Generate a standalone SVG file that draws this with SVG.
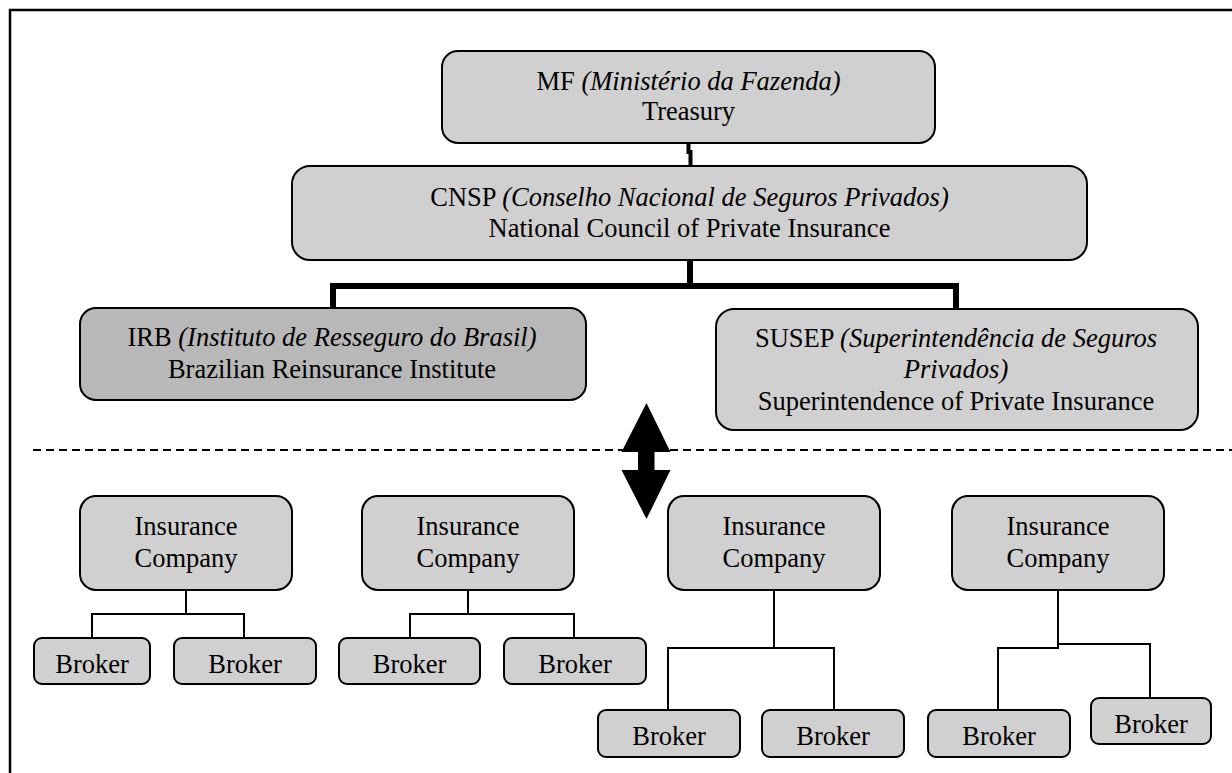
<svg xmlns="http://www.w3.org/2000/svg" width="1232" height="773" viewBox="0 0 1232 773">
<style>
.n{fill:#d0d0d0;stroke:#000;stroke-width:2}
.d{fill:#b8b8b8;stroke:#000;stroke-width:2}
text{font-family:"Liberation Serif","Times New Roman",serif;font-size:26.5px;fill:#000;text-anchor:middle}
.i{font-style:italic}
.thick{fill:none;stroke:#000;stroke-width:6}
.thin{fill:none;stroke:#000;stroke-width:2}
</style>
<rect x="0" y="0" width="1232" height="773" fill="#fff"/>
<path d="M10,773 V10 H1232" fill="none" stroke="#000" stroke-width="2.5"/>
<line x1="33" y1="450" x2="1232" y2="450" stroke="#000" stroke-width="2" stroke-dasharray="8,5"/>
<g id="connectors">
<path d="M688.5,143 V152 H690.5 V166" fill="none" stroke="#000" stroke-width="4"/>
<path class="thick" d="M690,260 V286 M333,310 V286 H956 V310"/>
<path class="thin" d="M186,590 V614 M92,638 V614 H244 V638"/>
<path class="thin" d="M468,590 V614 M410,638 V614 H574 V638"/>
<path class="thin" d="M774,590 V648 M668,710 V648 H834 V710"/>
<path class="thin" d="M1058,590 V648 H998 V710 M1058,644 H1150 V698"/>
</g>
<polygon id="arrow" points="646.5,403 670.5,452 654.5,452 654.5,470 670.5,470 646.5,519 621.5,470 638,470 638,452 621.5,452" fill="#000"/>
<g id="mf"><rect class="n" x="442" y="51" width="493" height="92" rx="16"/>
<text x="688.5" y="90">MF <tspan class="i">(Ministério da Fazenda)</tspan></text>
<text x="688.5" y="120">Treasury</text></g>
<g id="cnsp"><rect class="n" x="292" y="166" width="795" height="94" rx="18"/>
<text x="689.5" y="206">CNSP <tspan class="i">(Conselho Nacional de Seguros Privados)</tspan></text>
<text x="689.5" y="237">National Council of Private Insurance</text></g>
<g id="irb"><rect class="d" x="80" y="308" width="506" height="92" rx="16"/>
<text x="332" y="346">IRB <tspan class="i">(Instituto de Resseguro do Brasil)</tspan></text>
<text x="332" y="378">Brazilian Reinsurance Institute</text></g>
<g id="susep"><rect class="n" x="716" y="309" width="482" height="121" rx="18"/>
<text x="956" y="347">SUSEP <tspan class="i">(Superintendência de Seguros</tspan></text>
<text x="956" y="378" class="i">Privados)</text>
<text x="956" y="410">Superintendence of Private Insurance</text></g>
<g id="ic1"><rect class="n" x="80" y="496" width="212" height="94" rx="16"/><text x="186" y="535">Insurance</text><text x="186" y="567">Company</text></g>
<g id="ic2"><rect class="n" x="362" y="496" width="212" height="94" rx="16"/><text x="468" y="535">Insurance</text><text x="468" y="567">Company</text></g>
<g id="ic3"><rect class="n" x="668" y="496" width="212" height="94" rx="16"/><text x="774" y="535">Insurance</text><text x="774" y="567">Company</text></g>
<g id="ic4"><rect class="n" x="952" y="496" width="212" height="94" rx="16"/><text x="1058" y="535">Insurance</text><text x="1058" y="567">Company</text></g>
<g id="b1"><rect class="n" x="34" y="638" width="116" height="46" rx="8"/><text x="92" y="673">Broker</text></g>
<g id="b2"><rect class="n" x="174" y="638" width="142" height="46" rx="8"/><text x="245" y="673">Broker</text></g>
<g id="b3"><rect class="n" x="339" y="638" width="141" height="46" rx="8"/><text x="409.5" y="673">Broker</text></g>
<g id="b4"><rect class="n" x="504" y="638" width="142" height="46" rx="8"/><text x="575" y="673">Broker</text></g>
<g id="b5"><rect class="n" x="598" y="710" width="142" height="47" rx="8"/><text x="669" y="745">Broker</text></g>
<g id="b6"><rect class="n" x="762" y="710" width="142" height="47" rx="8"/><text x="833" y="745">Broker</text></g>
<g id="b7"><rect class="n" x="928" y="710" width="142" height="47" rx="8"/><text x="999" y="745">Broker</text></g>
<g id="b8"><rect class="n" x="1091" y="698" width="120" height="46" rx="8"/><text x="1151" y="733">Broker</text></g>
</svg>
